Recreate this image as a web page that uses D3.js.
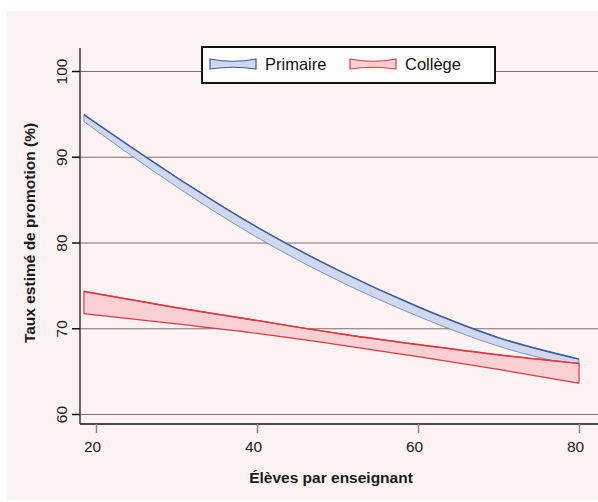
<!DOCTYPE html>
<html>
<head>
<meta charset="utf-8">
<script src="https://cdn.jsdelivr.net/npm/d3@7"></script>
<style>
  body { margin: 0; background: #fff; }
  svg { display: block; font-family: "Liberation Sans", Arial, sans-serif; }
</style>
</head>
<body>
<svg id="chart" width="598" height="502"></svg>
<script>
// values
const eleves = [18.5, 30, 40, 50, 60, 70, 80];
const primaireHaut = [94.9, 87.6, 81.8, 76.8, 72.5, 68.9, 66.4];
const primaireBas = [94.1, 86.5, 80.6, 75.6, 71.4, 67.9, 65.5];
const collegeHaut = [74.3, 72.4, 70.9, 69.4, 68.1, 66.9, 65.9];
const collegeBas = [71.7, 70.5, 69.4, 68.1, 66.7, 65.2, 63.6];
const xTicks = [20, 40, 60, 80];
const yTicks = [60, 70, 80, 90, 100];
const series = ["Primaire", "Collège"];

const svg = d3.select("#chart");

// pink panel
svg.append("rect")
  .attr("x", 7).attr("y", 11)
  .attr("width", 591).attr("height", 489)
  .attr("fill", "#fdf3f2");

const x = d3.scaleLinear().domain([20, 80]).range([96, 579]);
const y = d3.scaleLinear().domain([60, 100]).range([414, 71]);

// grid lines
svg.append("g")
  .attr("transform", "translate(80,0)")
  .call(d3.axisRight(y).tickValues(yTicks).tickSize(518).tickFormat(""))
  .call(g => g.select(".domain").remove())
  .call(g => g.selectAll("line").attr("stroke", "#7a7170").attr("stroke-width", 1.2));

// bands
const bands = [
  { haut: primaireHaut, bas: primaireBas, fill: "#cfd8ec", stroke: "#3c5aa6" },
  { haut: collegeHaut, bas: collegeBas, fill: "#f9d0d3", stroke: "#e8363e" }
];

const area = d3.area()
  .x(d => x(d.x))
  .y0(d => y(d.lo))
  .y1(d => y(d.hi))
  .curve(d3.curveMonotoneX);
const line = d3.line()
  .x(d => x(d[0]))
  .y(d => y(d[1]))
  .curve(d3.curveMonotoneX);

bands.forEach((b, k) => {
  const pts = eleves.map((e, i) => ({ x: e, hi: b.haut[i], lo: b.bas[i] }));
  svg.append("path")
    .attr("d", area(pts))
    .attr("fill", b.fill)
    .attr("stroke", b.stroke)
    .attr("stroke-width", k == 0 ? 0.6 : 1.2)
    .attr("stroke-linejoin", "round");
  svg.append("path")
    .attr("d", line(eleves.map((e, i) => [e, b.haut[i]])))
    .attr("fill", "none")
    .attr("stroke", b.stroke)
    .attr("stroke-width", 1.5);
});

// axis frame lines
svg.append("line")
  .attr("x1", 80).attr("x2", 80).attr("y1", 48).attr("y2", 424)
  .attr("stroke", "#3a3432").attr("stroke-width", 1.5);
svg.append("line")
  .attr("x1", 80).attr("x2", 598).attr("y1", 424).attr("y2", 424)
  .attr("stroke", "#111").attr("stroke-width", 1.5);

// y axis
svg.append("g")
  .attr("transform", "translate(80,0)")
  .call(d3.axisLeft(y).tickValues(yTicks).tickSize(8).tickPadding(0))
  .call(g => g.select(".domain").remove())
  .call(g => g.selectAll("line").attr("stroke", "#111").attr("stroke-width", 1.5))
  .call(g => g.selectAll("text")
    .attr("x", null).attr("dy", null)
    .attr("text-anchor", "middle")
    .attr("transform", "translate(-13,0) rotate(-90)")
    .attr("font-size", 15.5)
    .attr("fill", "#222"));

// x axis
svg.append("g")
  .attr("transform", "translate(0,424)")
  .call(d3.axisBottom(x).tickValues(xTicks).tickSize(9).tickPadding(0))
  .call(g => g.select(".domain").remove())
  .call(g => g.selectAll("line").attr("stroke", "#8a8584").attr("stroke-width", 1.5))
  .call(g => g.selectAll("text")
    .attr("y", 28).attr("dy", null).attr("x", -4)
    .attr("font-size", 15.5)
    .attr("fill", "#222"));

// axis titles
svg.append("text")
  .attr("x", 331).attr("y", 483)
  .attr("text-anchor", "middle")
  .attr("font-size", 15.5).attr("font-weight", "bold")
  .attr("fill", "#1a1a1a")
  .text("Élèves par enseignant");
svg.append("text")
  .attr("transform", "translate(34.5,233) rotate(-90)")
  .attr("text-anchor", "middle")
  .attr("font-size", 15.5).attr("font-weight", "bold")
  .attr("fill", "#1a1a1a")
  .text("Taux estimé de promotion (%)");

// legend
const leg = svg.append("g");
leg.append("rect")
  .attr("x", 202).attr("y", 47).attr("width", 293).attr("height", 36)
  .attr("fill", "#fff").attr("stroke", "#111").attr("stroke-width", 2);
const keyX = [210, 350];
series.forEach((s, i) => {
  const b = bands[i];
  const x0 = keyX[i], x1 = x0 + 46;
  leg.append("path")
    .attr("d", `M${x0},59 Q${(x0 + x1) / 2},63.5 ${x1},59 L${x1},69 Q${(x0 + x1) / 2},65.5 ${x0},69 Z`)
    .attr("fill", b.fill).attr("stroke", b.stroke).attr("stroke-width", 1.2);
  leg.append("text")
    .attr("x", x1 + 9).attr("y", 69.5)
    .attr("font-size", 16.5).attr("fill", "#111")
    .text(s);
});
</script>
</body>
</html>
